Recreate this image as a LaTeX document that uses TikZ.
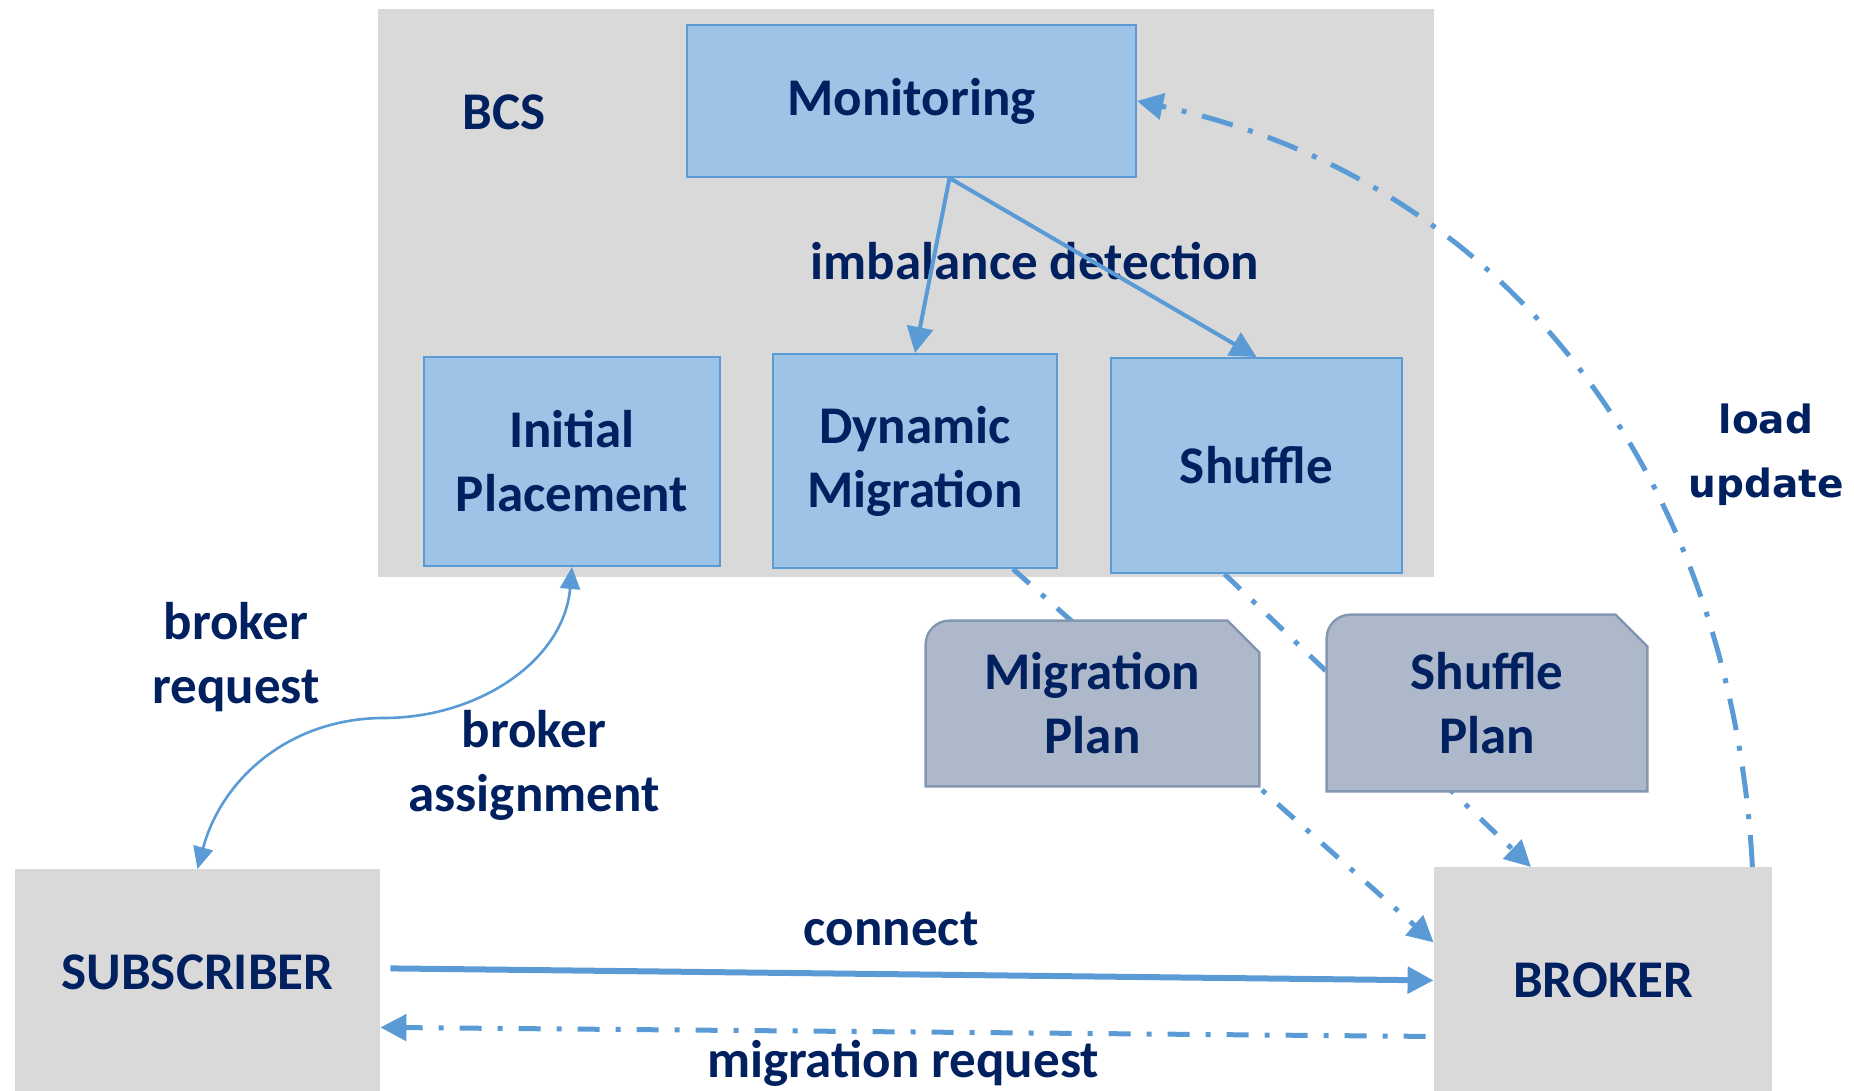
\documentclass[tikz,border=0pt]{standalone}
\usepackage{fontspec}
\setmainfont{Carlito}
\newfontfamily\widefont{DejaVu Sans}
\usetikzlibrary{arrows.meta}
\pgfdeclarelayer{background}
\pgfsetlayers{background,main}

\definecolor{bcsgray}{HTML}{D9D9D9}
\definecolor{compfill}{HTML}{9DC3E6}
\definecolor{compedge}{HTML}{5B9BD5}
\definecolor{planfill}{HTML}{ADB9CA}
\definecolor{planedge}{HTML}{8497B0}
\definecolor{navy}{HTML}{002060}
\definecolor{flow}{HTML}{5B9BD5}

\tikzset{
  txt/.style={text=navy, font=\fontsize{26.5}{32}\selectfont\bfseries, align=center, inner sep=0pt},
  comp/.style={txt, draw=compedge, fill=compfill, line width=1pt},
  party/.style={fill=bcsgray, inner sep=0pt, anchor=north},
  planshape/.style={draw=planedge, fill=planfill, line width=1.2pt},
  tip/.style={-{Triangle[length=13pt,width=13pt]}},
  link/.style={draw=flow, line width=2pt, tip},
  dashdot/.style={draw=flow, line width=2.5pt, dash pattern=on 11pt off 8pt on 2.5pt off 8pt, tip},
  longdashdot/.style={dashdot, dash pattern=on 16pt off 8pt on 2.5pt off 8pt},
}

\begin{document}
\begin{tikzpicture}[x=0.5pt, y=-0.5pt]
    \useasboundingbox (0,0) rectangle (1854,1091);

    % BCS components
    \node[comp, minimum width=224.5pt, minimum height=76pt] (mon) at (911.5,101) {Monitoring};
    \node[comp, minimum width=148pt, minimum height=104.5pt] (init) at (572,461.5) {Initial\\Placement};
    \node[comp, minimum width=142pt, minimum height=107pt] (dyn) at (915,461) {Dynamic\\Migration};
    \node[comp, minimum width=145.5pt, minimum height=107.5pt] (shuf) at (1256.5,465.5) {Shuffle};
    \node[txt] (bcslbl) at (504,112) {BCS};

    % plans
    \node[txt, minimum width=166.5pt, minimum height=82.5pt] (mplan) at (1092.5,703.5) {Migration\\Plan};
    \node[txt, minimum width=160pt, minimum height=88pt] (splan) at (1487,703) {Shuffle\\Plan};

    % subscriber and broker
    \node[party, minimum width=182.5pt, minimum height=120pt,
          label={[txt,yshift=8.5pt]center:SUBSCRIBER}] (sub) at (197.5,869) {};
    \node[party, minimum width=169pt, minimum height=120pt,
          label={[txt,yshift=3.5pt]center:BROKER}] (brk) at (1603,867) {};

    \begin{pgfonlayer}{background}
        \node[fill=bcsgray, inner sep=0pt, minimum width=528pt, minimum height=284pt] (bcs) at (906,293) {};
        \draw[dashdot] ([xshift=49pt]dyn.south) -- ([yshift=22.5pt]brk.west);
        \draw[dashdot] ([xshift=-16pt]shuf.south) -- ([xshift=-36pt]brk.north);
        \foreach \p in {mplan,splan}
            \path[planshape] ([yshift=-12pt]\p.north west) arc[start angle=180, end angle=90, radius=12pt]
                -- ([xshift=-16pt]\p.north east) -- ([yshift=-16pt]\p.north east)
                -- (\p.south east) -- (\p.south west) -- cycle;
    \end{pgfonlayer}

    \node[txt] (imblbl) at (1035,261) {imbalance detection};
    \coordinate (fork) at ([xshift=19pt]mon.south);
    \draw[link] (fork) -- (dyn.north);
    \draw[link] (fork) -- (shuf.north);

    % request / assignment
    \coordinate (sway) at (384,718);
    \draw[draw=flow, line width=1.3pt, {Triangle[length=11pt,width=10pt]}-{Triangle[length=11pt,width=10pt]}]
        (init.south) to[out=-95,in=0] (sway) to[out=180,in=75] (sub.north);
    \node[txt] (reqlbl) at (236,657) {broker\\request};
    \node[txt] (asglbl) at (534,765) {broker\\assignment};

    \draw[link, line width=3pt] ([xshift=5pt,yshift=10.5pt]sub.east)
        -- node[txt, pos=0.48, above=12.5pt] (conlbl) {connect} ([yshift=3.5pt]brk.west);
    \draw[dashdot] ([xshift=-4pt,yshift=-24.5pt]brk.west)
        -- node[txt, below=3pt] (miglbl) {migration request} ([yshift=-19pt]sub.east);

    % load update
    \draw[longdashdot] ([xshift=-10pt]brk.north east) to[out=93,in=-12] (mon.east);
    \node[txt, font=\widefont\fontsize{19.5}{32}\selectfont\bfseries] (loadlbl) at (1766,455) {load\\update};
\end{tikzpicture}
\end{document}
